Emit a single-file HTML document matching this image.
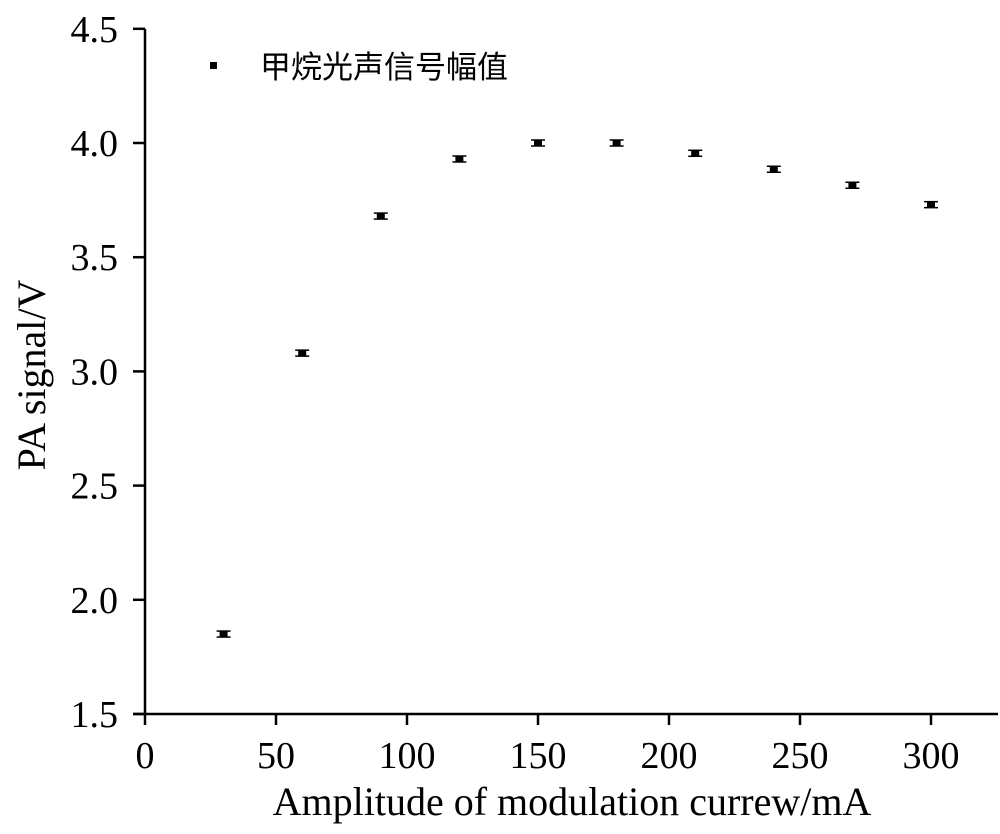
<!DOCTYPE html>
<html><head><meta charset="utf-8"><style>
body{margin:0;background:#fff;}
svg text{font-family:"Liberation Serif",serif;fill:#000;}
</style></head><body>
<svg id="chart" width="1000" height="829" viewBox="0 0 1000 829">
<g id="axes"></g>
<g id="marks"></g>
<g>
<rect x="210" y="62" width="7" height="7" fill="#000"/>
<text x="260" y="78" font-size="31" style="font-family:'Liberation Sans','Noto Sans CJK SC',sans-serif">甲烷光声信号幅值</text>
</g>
<text x="572" y="815" font-size="40" text-anchor="middle">Amplitude of modulation currew/mA</text>
<text transform="translate(45,375) rotate(-90)" font-size="40" text-anchor="middle">PA signal/V</text>
</svg>
<script>
const xValues=[30,60,90,120,150,180,210,240,270,300];
const yValues=[1.85,3.08,3.68,3.93,4.00,4.00,3.955,3.885,3.815,3.73];
const xTicks=[0,50,100,150,200,250,300];
const yTicks=["1.5","2.0","2.5","3.0","3.5","4.0","4.5"];
const NS="http://www.w3.org/2000/svg";
const X0=145,Y0=714;
function sx(v){return X0+v*131/50;}
function sy(v){return Y0-(v-1.5)*114.2/0.5;}
function mk(t,a,p){const e=document.createElementNS(NS,t);for(const k in a)e.setAttribute(k,a[k]);p.appendChild(e);return e;}
const ax=document.getElementById('axes'),mg=document.getElementById('marks');
const yl=mk('line',{x1:X0,y1:sy(4.5),x2:X0,y2:Y0,stroke:'#000','stroke-width':2.5},ax);


const xl=mk('line',{x1:X0-12,y1:Y0,x2:998,y2:Y0,stroke:'#000','stroke-width':2.5},ax);


xTicks.forEach(v=>{
 const t=mk('line',{x1:sx(v),y1:Y0,x2:sx(v),y2:Y0+11,stroke:'#000','stroke-width':2.5},ax);
 
 
 const l=mk('text',{x:sx(v),y:Y0+54,'font-size':38,'text-anchor':'middle'},ax);l.textContent=v;
 
 
});
yTicks.forEach(s=>{
 const v=parseFloat(s);
 const t=mk('line',{x1:X0-12,y1:sy(v),x2:X0,y2:sy(v),stroke:'#000','stroke-width':2.5},ax);
 
 
 const l=mk('text',{x:X0-27,y:sy(v)+13,'font-size':38,'text-anchor':'end'},ax);l.textContent=s;
 
 
});
xValues.forEach((x,i)=>{
 const g=mk('g',{},mg);
 
 
 const cx=sx(x),cy=sy(yValues[i]);
 mk('line',{x1:cx-7,y1:cy-3,x2:cx+7,y2:cy-3,stroke:'#000','stroke-width':1.5},g);
 mk('line',{x1:cx-7,y1:cy+3,x2:cx+7,y2:cy+3,stroke:'#000','stroke-width':1.5},g);
 mk('rect',{x:cx-4,y:cy-3,width:8,height:6,fill:'#000'},g);
});
</script>
</body></html>
